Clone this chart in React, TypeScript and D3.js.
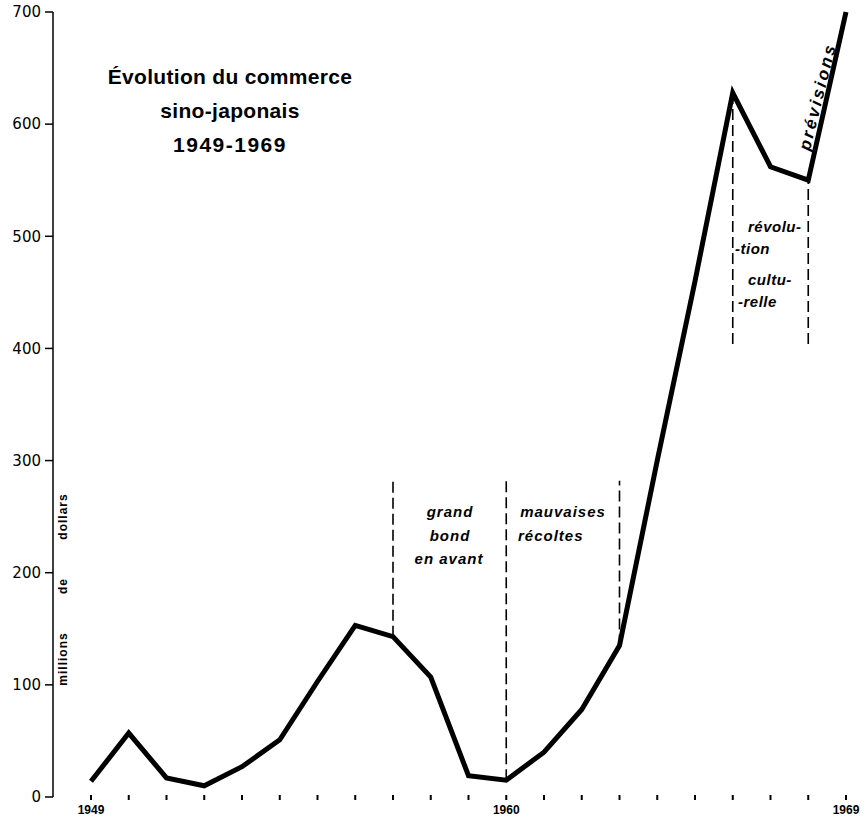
import React from "react";
import * as d3 from "d3";

// Commerce sino-japonais, millions de dollars
const years = [1949, 1950, 1951, 1952, 1953, 1954, 1955, 1956, 1957, 1958, 1959, 1960, 1961, 1962, 1963, 1964, 1965, 1966, 1967, 1968, 1969];
const trade = [14, 57, 17, 10, 27, 51, 103, 153, 143, 107, 19, 15, 40, 78, 135, 300, 460, 628, 562, 550, 700];

const yTicks = [0, 100, 200, 300, 400, 500, 600, 700];
const yearLabels = [1949, 1960, 1969];

// periods marked by dashed lines: [year, from value, to value]
const periodMarks: [number, number, number][] = [
  [1957, 143, 282],
  [1960, 15, 282],
  [1963, 135, 282],
  [1966, 404, 625],
  [1968, 404, 550],
];

const titleLines = ["Évolution du commerce", "sino-japonais", "1949-1969"];

const W = 864;
const H = 817;

const App: React.FC = () => {
  const x = d3.scaleLinear().domain([1949, 1969]).range([91, 846]);
  const y = d3.scaleLinear().domain([0, 700]).range([797, 12]);

  const line = d3
    .line<number>()
    .x((_, i) => x(years[i]))
    .y((d) => y(d));

  const axisX = 53;
  const font = "'Liberation Sans', Arial, sans-serif";

  return (
    <svg
      width={W}
      height={H}
      style={{ position: "absolute", left: 0, top: 0, background: "#fff" }}
    >
      {/* y axis */}
      <line x1={axisX} x2={axisX} y1={y(700)} y2={y(0)} stroke="#000" strokeWidth={1.5} />
      {yTicks.map((t) => (
        <g key={t}>
          <line x1={axisX - 8} x2={axisX} y1={y(t)} y2={y(t)} stroke="#000" strokeWidth={1.5} />
          <text
            x={axisX - 12}
            y={y(t)}
            dy="0.35em"
            textAnchor="end"
            fontFamily="'DejaVu Sans', sans-serif"
            fontSize={15}
            fill="#000"
          >
            {t}
          </text>
        </g>
      ))}
      <text
        transform={`translate(67,${y(185)}) rotate(-90)`}
        fontFamily={font}
        fontWeight="bold"
        fontSize={12}
        wordSpacing={34}
        letterSpacing={1}
        textAnchor="middle"
        fill="#000"
      >
        millions de dollars
      </text>

      {/* x ticks */}
      {years.map((yr) => (
        <line
          key={yr}
          x1={x(yr)}
          x2={x(yr)}
          y1={y(0) - 2}
          y2={y(0) + 3}
          stroke="#000"
          strokeWidth={2}
        />
      ))}
      {yearLabels.map((yr) => (
        <text
          key={yr}
          x={x(yr)}
          y={y(0) + 17}
          textAnchor="middle"
          fontFamily={font}
          fontWeight="bold"
          fontSize={12}
          fill="#000"
        >
          {yr}
        </text>
      ))}

      {/* dashed period lines */}
      {periodMarks.map(([yr, a, b], i) => (
        <line
          key={i}
          x1={x(yr)}
          x2={x(yr)}
          y1={y(a)}
          y2={y(b)}
          stroke="#000"
          strokeWidth={1.6}
          strokeDasharray="11,5"
        />
      ))}

      {/* main line */}
      <path
        d={line(trade) ?? ""}
        fill="none"
        stroke="#000"
        strokeWidth={5}
        strokeLinejoin="miter"
      />

      {/* title */}
      {titleLines.map((t, i) => (
        <text
          key={t}
          x={230}
          y={84 + i * 34}
          textAnchor="middle"
          fontFamily={font}
          fontWeight="bold"
          fontSize={21}
          letterSpacing={i === 2 ? 1.5 : 0.3}
          fill="#000"
        >
          {t}
        </text>
      ))}

      {/* annotations */}
      <g fontFamily={font} fontStyle="italic" fontWeight="bold" fontSize={15} fill="#000">
        <text x={450} y={517} textAnchor="middle" letterSpacing={1}>grand</text>
        <text x={450} y={541} textAnchor="middle" letterSpacing={1}>bond</text>
        <text x={449} y={564} textAnchor="middle" letterSpacing={1}>en avant</text>
        <text x={563} y={517} textAnchor="middle" letterSpacing={1}>mauvaises</text>
        <text x={518} y={541} letterSpacing={1}>récoltes</text>
        <text x={748} y={232} letterSpacing={0.5}>révolu-</text>
        <text x={735} y={254} letterSpacing={0.5}>-tion</text>
        <text x={748} y={285} letterSpacing={0.5}>cultu-</text>
        <text x={738} y={307} letterSpacing={0.5}>-relle</text>
        <text
          transform="translate(823,98) rotate(-76)"
          textAnchor="middle"
          fontSize={17}
          letterSpacing={2.5}
        >
          prévisions
        </text>
      </g>
    </svg>
  );
};

export default App;
